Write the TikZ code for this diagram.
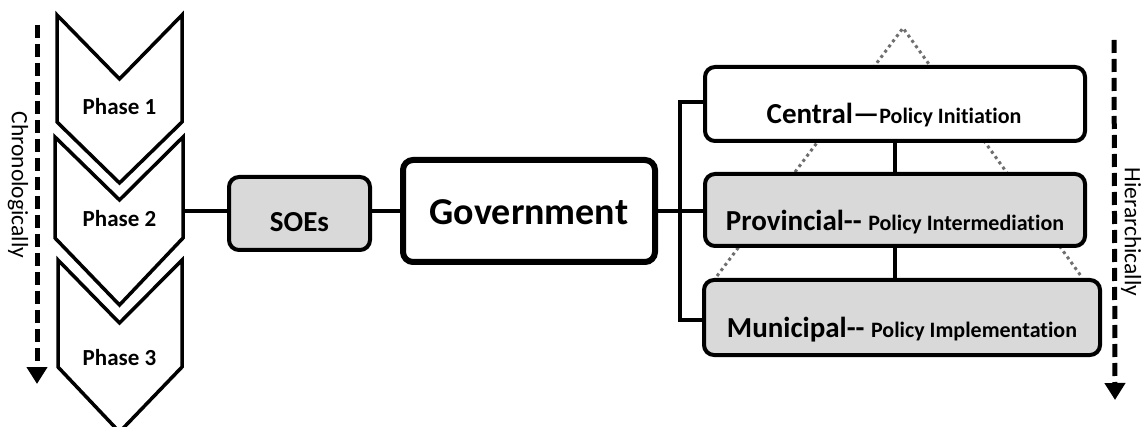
\documentclass[tikz,border=0pt]{standalone}
\usepackage{fontspec}
\setmainfont{Carlito}[Ligatures={NoCommon}]
\usetikzlibrary{arrows.meta}
\definecolor{boxgray}{HTML}{D9D9D9}
\definecolor{dotgray}{HTML}{6F6F6F}
\tikzset{
  box/.style={draw=black, rounded corners=10pt, line width=4pt, inner sep=0pt},
  conn/.style={draw=black, line width=3.5pt},
  chev/.style={draw=black, fill=white, line width=3.5pt, line join=miter},
  tri/.style={draw=dotgray, line width=3pt, dash pattern=on 3pt off 3.5pt},
  timearrow/.style={line width=5pt, dash pattern=on 13pt off 6pt, -{Triangle[width=20pt,length=17pt]}},
  lbl/.style={inner sep=0pt, anchor=base, font=\bfseries},
  phase/.style={lbl, font=\bfseries\fontsize{23}{23}\selectfont},
  side/.style={inner sep=0pt, rotate=-90, font=\fontsize{23.5}{23.5}\selectfont}
}
\newcommand{\bigpart}{\fontsize{29}{29}\selectfont}
\newcommand{\smallpart}{\fontsize{22}{22}\selectfont}
\begin{document}
\begin{tikzpicture}[x=1pt,y=-1pt]
\useasboundingbox (0,0) rectangle (1142,427);
% dotted triangle behind
\coordinate (apex) at (903,28);
\coordinate (bl) at (717,276);
\coordinate (brr) at (1081,276);
\draw[tri] (bl) -- (apex) -- (brr);
% chevrons
\draw[chev] (57,15) -- (119.5,79) -- (182,15) -- (182,122) -- (119.5,183) -- (57,122) -- cycle;
\draw[chev] (55,137) -- (119.5,200) -- (183,137) -- (183,238) -- (119.5,305) -- (55,238) -- cycle;
\draw[chev] (58,260) -- (119.5,323) -- (182,260) -- (182,367) -- (119.5,432) -- (58,367) -- cycle;
\node[phase] (ph1) at (119.5,115) {Phase 1};
\node[phase] (ph2) at (119.5,227) {Phase 2};
\node[phase] (ph3) at (119.5,365) {Phase 3};
\coordinate (p2r) at (183,211);
% boxes
\node[box, fill=boxgray, minimum width=141pt, minimum height=73pt] (soe) at (299.5,213.5) {};
\node[box, fill=white, line width=6pt, minimum width=252pt, minimum height=102pt] (gov) at (529,211) {};
\node[box, fill=white, minimum width=380pt, minimum height=74pt] (cen) at (895,104) {};
\node[box, fill=boxgray, minimum width=380pt, minimum height=72pt] (prov) at (895,210) {};
\node[box, fill=boxgray, minimum width=396pt, minimum height=75pt] (muni) at (902,317.5) {};
% texts
\node[lbl, font=\bfseries\fontsize{29}{29}\selectfont] (soeT) at (299.5,232) {SOEs};
\node[lbl, font=\bfseries\fontsize{38}{38}\selectfont] (govT) at (529,225) {Government};
\node[lbl] (cenT) at (894,124) {\bigpart Central—\smallpart Policy Initiation};
\node[lbl] (provT) at (895,231) {\bigpart Provincial-{}- \smallpart Policy Intermediation};
\node[lbl] (muniT) at (902,337) {\bigpart Municipal-{}- \smallpart Policy Implementation};
% connectors
\draw[conn] (p2r) -- (soe.west |- p2r);
\draw[conn] (soe.east |- gov.west) -- (gov.west);
\draw[conn] (gov.east) -- (prov.west |- gov.east);
\coordinate (bt) at (680,102);
\coordinate (bb) at (680,320);
\draw[conn] (cen.west |- bt) -- (bt) -- (bb) -- (muni.west |- bb);
\draw[conn] (cen.south) -- (prov.north);
\draw[conn] (895,248) -- (895,278);
% side arrows
\coordinate (ca1) at (37,25);
\coordinate (ca2) at (37,384);
\draw[timearrow] (ca1) -- (ca2);
\node[side] (chrono) at (18,185) {Chronologically};
\coordinate (ha1) at (1114,40);
\coordinate (ha2) at (1115,400);
\draw[timearrow] (ha1) -- (ha2);
\node[side] (hier) at (1131,232) {Hierarchically};
\end{tikzpicture}
\end{document}
